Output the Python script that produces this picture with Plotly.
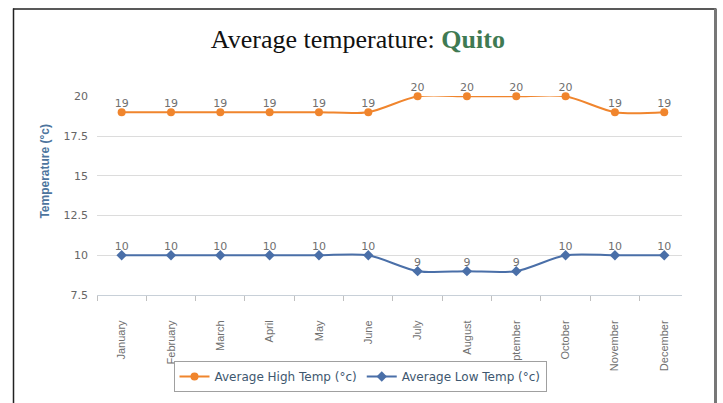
import plotly.graph_objects as go

months = ["January", "February", "March", "April", "May", "June",
          "July", "August", "September", "October", "November", "December"]
high_temp = [19, 19, 19, 19, 19, 19, 20, 20, 20, 20, 19, 19]
low_temp = [10, 10, 10, 10, 10, 10, 9, 9, 9, 10, 10, 10]
y_ticks = [7.5, 10, 12.5, 15, 17.5, 20]
y_tick_labels = ["7.5", "10", "12.5", "15", "17.5", "20"]

W, H = 723, 403
L, R, T, B = 97, 41, 96, 107
PW, PH = W - L - R, H - T - B


def px(xp):
    return (xp - L) / PW


def py(yp):
    return (H - B - yp) / PH


ORANGE = "#f0852d"
BLUE = "#4a6fa8"
LABEL_FONT = dict(family="DejaVu Sans", size=11, color="#707070")

fig = go.Figure()
for name, vals, color, symbol in [
    ("Average High Temp (°c)", high_temp, ORANGE, "circle"),
    ("Average Low Temp (°c)", low_temp, BLUE, "diamond"),
]:
    fig.add_trace(go.Scatter(
        x=months, y=vals, name=name, mode="lines+markers",
        line=dict(color=color, width=2, shape="spline", smoothing=0.8),
        marker=dict(color=color, size=8, symbol=symbol),
        cliponaxis=False,
    ))
    fig.add_trace(go.Scatter(
        x=months, y=vals, mode="markers+text", text=[str(v) for v in vals],
        textposition="top center", textfont=LABEL_FONT,
        marker=dict(size=3, opacity=0),
        showlegend=False, hoverinfo="skip", cliponaxis=False,
    ))

fig.update_layout(
    width=W, height=H,
    margin=dict(l=L, r=R, t=T, b=B),
    paper_bgcolor="white", plot_bgcolor="white",
    title=dict(
        text="Average temperature: <span style='color:#3f7a52'><b>Quito</b></span>",
        x=0.495, xanchor="center", y=1 - 39 / H, yanchor="middle",
        font=dict(family="Liberation Serif", size=26, color="#111111"),
    ),
    showlegend=True,
    legend=dict(
        orientation="h", x=px(360), xanchor="center", y=py(361), yanchor="top",
        bgcolor="white", bordercolor="#a0a0a0", borderwidth=1,
        font=dict(family="DejaVu Sans", size=12, color="#3e576f"),
        itemwidth=30, tracegroupgap=0,
    ),
    xaxis=dict(
        type="category", range=[-0.5, 11.36],
        tickangle=-90, tickson="boundaries",
        ticks="outside", ticklen=5, tickcolor="#c0c0c0",
        ticklabelstandoff=20,
        showline=True, linecolor="#c8d0d8", linewidth=1,
        showgrid=False,
        tickfont=dict(family="Liberation Sans", size=11, color="#707070"),
    ),
    yaxis=dict(
        range=[7.5, 20.02], tickvals=y_ticks, ticktext=y_tick_labels,
        showgrid=True, gridcolor="#dcdcdc", gridwidth=1,
        zeroline=False, showline=False, ticks="",
        ticklabelstandoff=8,
        tickfont=dict(family="DejaVu Sans", size=11, color="#666666"),
    ),
    annotations=[dict(
        text="<b>Temperature (°c)</b>", textangle=-90,
        x=px(45), y=py(172), xref="paper", yref="paper",
        showarrow=False, xanchor="center", yanchor="middle",
        font=dict(family="Liberation Sans", size=12, color="#4d759e"),
    )],
    shapes=[
        dict(type="line", xref="paper", yref="paper",
             x0=px(13), x1=px(716), y0=py(8.5), y1=py(8.5),
             line=dict(color="#222222", width=1.5)),
        dict(type="line", xref="paper", yref="paper",
             x0=px(13.5), x1=px(13.5), y0=py(8), y1=py(410),
             line=dict(color="#222222", width=1.5)),
        dict(type="line", xref="paper", yref="paper",
             x0=px(715.5), x1=px(715.5), y0=py(8), y1=py(410),
             line=dict(color="#777777", width=3)),
    ],
)

fig.write_html(
    "out.html",
    config={"displayModeBar": False},
    post_script="document.body.style.margin='0px';document.body.style.overflow='hidden';",
)
